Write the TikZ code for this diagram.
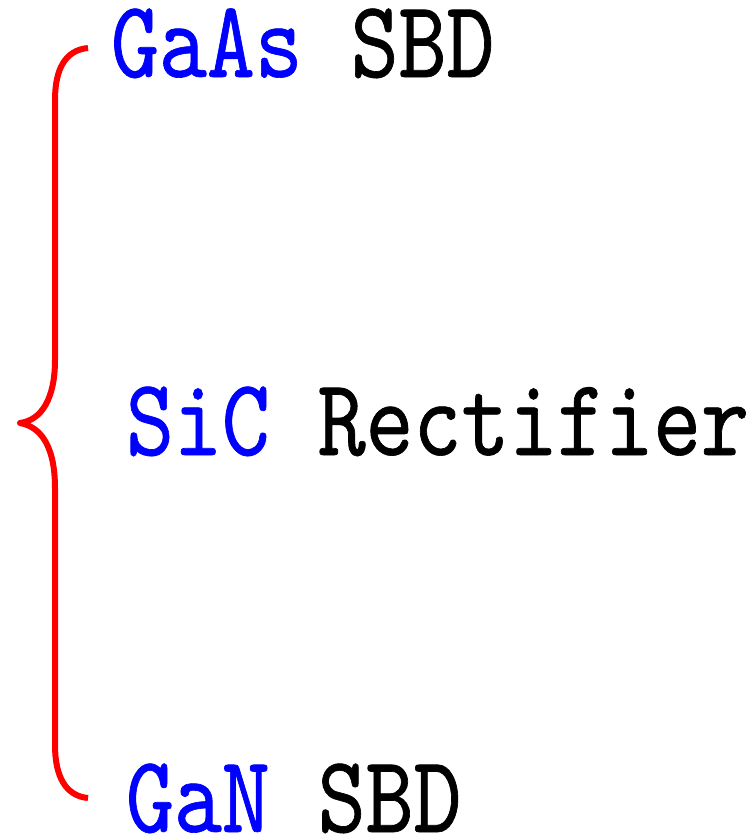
\documentclass[tikz,border=0pt]{standalone}
\usepackage{fontspec}
\usepackage{xcolor}
% condensed typewriter face for the labels
\newfontfamily\labelfont{lmmono10-regular.otf}[FakeStretch=0.83,FakeBold=0.6]
\definecolor{matblue}{RGB}{0,0,255}
\definecolor{bracered}{RGB}{255,0,0}
\begin{document}
\begin{tikzpicture}[x=1pt,y=-1pt,
  label/.style={anchor=base west,inner sep=0pt,outer sep=0pt,
    font=\labelfont\fontsize{110}{110}\selectfont},
  brace/.style={draw=bracered,line width=6pt,line cap=butt,line join=round}]
  \useasboundingbox (0,0) rectangle (754,835);

  % curly brace grouping the three devices
  \draw[brace] (88,48) .. controls (66,50) and (55,68) .. (55,100)
    -- (55,360) .. controls (55,398) and (42,420) .. (20,423)
    .. controls (42,427) and (55,448) .. (55,488)
    -- (55,745) .. controls (55,777) and (66,796) .. (88,798);

  % device labels
  \node[label] (gaas) at (111,77) {\textcolor{matblue}{GaAs} SBD};
  \node[label] (sic)  at (126,455) {\textcolor{matblue}{SiC} Rectifier};
  \node[label] (gan)  at (126,832) {\textcolor{matblue}{GaN} SBD};
\end{tikzpicture}
\end{document}
